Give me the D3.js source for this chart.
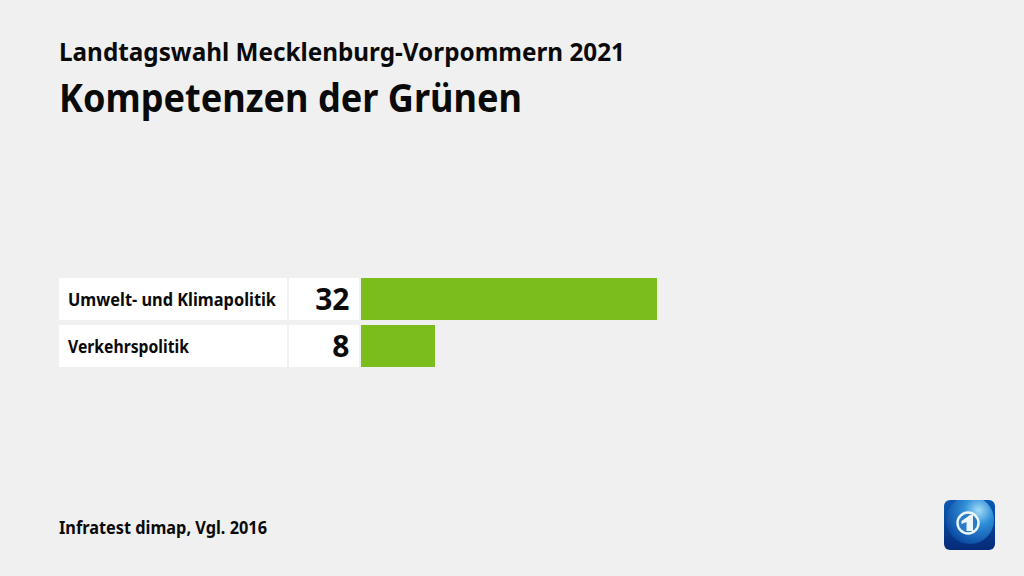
<!DOCTYPE html>
<html><head><meta charset="utf-8">
<script src="https://cdn.jsdelivr.net/npm/d3@7"></script>
<style>html,body{margin:0;padding:0;background:#f0f0f0;overflow:hidden}svg{display:block}text{font-family:"Noto Sans",sans-serif;fill:#0a0a0a}</style>
</head><body><div id="c"></div>
<script>
const categories=["Umwelt- und Klimapolitik","Verkehrspolitik"];
const values=[32,8];
const superTitle="Landtagswahl Mecklenburg-Vorpommern 2021";
const mainTitle="Kompetenzen der Grünen";
const source="Infratest dimap, Vgl. 2016";
const barColor="#7abd1c";

const svg=d3.select("#c").append("svg").attr("width",1024).attr("height",576);
const x=d3.scaleLinear().domain([0,32]).range([361,657]);
const y=d3.scaleBand().domain(categories).range([278,367]).paddingInner(0.106).paddingOuter(0);

function fit(sel,len){sel.attr("textLength",len).attr("lengthAdjust","spacingAndGlyphs");return sel;}

fit(svg.append("text").attr("x",59).attr("y",61).attr("font-size",25).attr("font-weight",700).text(superTitle),566);
fit(svg.append("text").attr("x",59).attr("y",112).attr("font-size",40).attr("font-weight",700).text(mainTitle),463);

const rows=svg.selectAll("g.row").data(categories).join("g").attr("class","row");
rows.append("rect").attr("x",59).attr("width",228).attr("y",d=>y(d)).attr("height",y.bandwidth()).attr("fill","#fff");
rows.append("rect").attr("x",289).attr("width",70).attr("y",d=>y(d)).attr("height",y.bandwidth()).attr("fill","#fff");
rows.append("text").attr("x",68).attr("y",d=>y(d)+y.bandwidth()/2+7).attr("font-size",17).attr("font-weight",700)
  .text(d=>d).each(function(d,i){fit(d3.select(this),[208,121][i]);});
rows.append("text").attr("x",349.5).attr("text-anchor","end").attr("y",d=>y(d)+y.bandwidth()/2+11).attr("font-size",30).attr("font-weight",700)
  .text((d,i)=>values[i]);
rows.append("rect").attr("x",x(0)).attr("y",d=>y(d)).attr("height",y.bandwidth()).attr("width",(d,i)=>x(values[i])-x(0)).attr("fill",barColor);

fit(svg.append("text").attr("x",59).attr("y",534).attr("font-size",17.5).attr("font-weight",700).text(source),208);

// logo
const defs=svg.append("defs");
const g1=defs.append("radialGradient").attr("id","globe").attr("cx","0.68").attr("cy","0.3").attr("r","0.75");
g1.append("stop").attr("offset","0").attr("stop-color","#a4dcf6");
g1.append("stop").attr("offset","0.4").attr("stop-color","#2f8fd8");
g1.append("stop").attr("offset","1").attr("stop-color","#0b4aa2");
const g2=defs.append("linearGradient").attr("id","tile").attr("x1",0).attr("y1",0).attr("x2",0).attr("y2",1);
g2.append("stop").attr("offset","0").attr("stop-color","#0a5ab4");
g2.append("stop").attr("offset","1").attr("stop-color","#062a78");
defs.append("clipPath").attr("id","tc").append("rect").attr("x",944).attr("y",500).attr("width",51).attr("height",50).attr("rx",6);
const logo=svg.append("g").attr("clip-path","url(#tc)");
logo.append("rect").attr("x",944).attr("y",500).attr("width",51).attr("height",50).attr("fill","url(#tile)");
logo.append("circle").attr("cx",970).attr("cy",520).attr("r",24).attr("fill","url(#globe)");
logo.append("circle").attr("cx",968).attr("cy",523).attr("r",10.5).attr("fill","#2a7cc6").attr("stroke","#eef6fb").attr("stroke-width",2.4);
logo.append("path").attr("d","M961.5 521 L970 515 L973 515 L973 531 L966.5 531 L966.5 522 L961.5 524 Z").attr("fill","#eef6fb");
</script></body></html>
